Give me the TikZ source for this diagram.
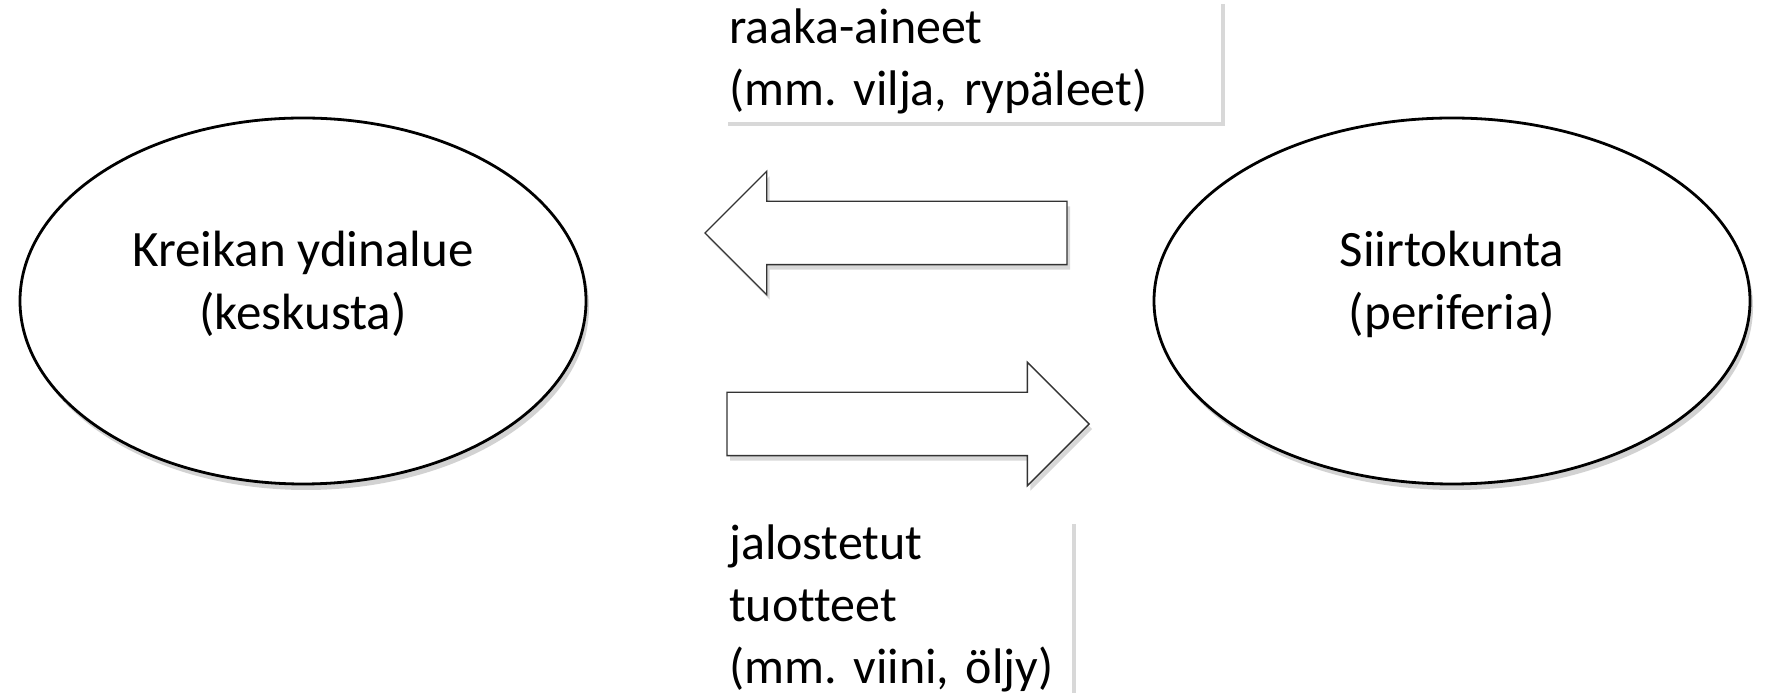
\documentclass[tikz,border=0pt]{standalone}
\usepackage{fontspec}
\setmainfont[Ligatures=NoCommon]{Carlito}
\usetikzlibrary{shapes.geometric, shapes.arrows, shadows, positioning}
\frenchspacing

\begin{document}
\begin{tikzpicture}[x=1pt, y=1pt]
	\tikzset{
		area/.style={ellipse, draw=black, line width=2.8pt, fill=white,
			drop shadow={shadow xshift=3pt, shadow yshift=-6pt, opacity=0.35},
			font=\fontsize{51}{63}\selectfont, align=center, text depth=42},
		flow/.style={single arrow, draw=black!80, line width=1.4pt, fill=white,
			minimum height=362, inner sep=31, single arrow head extend=30,
			drop shadow={shadow xshift=3pt, shadow yshift=-5pt, opacity=0.3}},
		tag/.style={anchor=north west, fill=white, inner xsep=5, align=left,
			drop shadow={shadow xshift=4pt, shadow yshift=-4pt, opacity=0.3},
			font=\fontsize{50}{62}\selectfont}
	}
	\useasboundingbox (0,0) rectangle (1765,693);
	\fill[white] (0,0) rectangle (1765,693);
	% the two regions
	\node[area, minimum width=566, minimum height=366] (core) at (303,392) {Kreikan ydinalue\\(keskusta)};
	\node[area, minimum width=596, minimum height=366] (colony) at (1452,392) {Siirtokunta\\(periferia)};
	% trade flows
	\node[flow, shape border rotate=180, anchor=tip] (rawflow) at (704,460) {};
	\node[flow, anchor=tip] (goodsflow) at (1090,269) {};
	% what moves
	\node[tag, minimum width=497, minimum height=122, text width=487] (rawtag) at (724,693) {raaka-aineet\\(mm. vilja, rypäleet)};
	\node[tag, minimum width=348, minimum height=176, text width=338] (goodstag) at (724,173) {jalostetut\\tuotteet\\(mm. viini, öljy)};
\end{tikzpicture}
\end{document}
